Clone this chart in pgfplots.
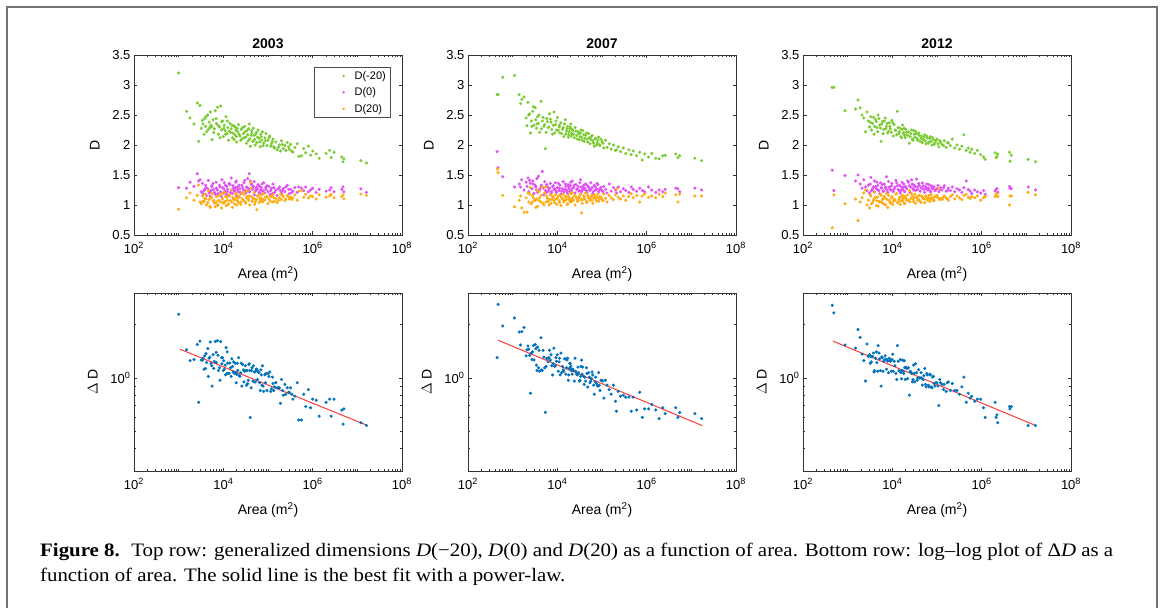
\documentclass[border=0pt]{standalone}
\usepackage{pgfplots}
\pgfplotsset{compat=1.18}
\usepackage{pgfplotstable}
\usepackage{graphicx}
\usepackage{fontspec}
\setmainfont{Liberation Sans}
\newfontfamily\capfont{Liberation Serif}
\definecolor{cgreen}{RGB}{122,204,50}
\definecolor{cmag}{RGB}{226,80,246}
\definecolor{corange}{RGB}{255,172,20}
\definecolor{cblue}{RGB}{0,114,189}
\definecolor{cred}{RGB}{255,60,60}

% columns: area, D(-20), D(0), D(20), Delta D
\pgfplotstableread{
A Dm D0 Dp dD
1.0e3 3.20 1.29 0.93 2.28
1.5e3 2.56 1.28 1.12 1.44
1.8e3 2.45 1.38 1.20 1.25
2.2e3 2.35 1.31 1.08 1.27
2.6e3 2.70 1.52 1.16 1.54
2.8e3 2.06 1.40 1.33 0.73
3.0e3 2.66 1.42 1.05 1.61
3.2e3 2.28 1.22 1.02 1.26
3.5e3 2.35 1.19 1.06 1.29
3.8e3 2.44 1.26 1.11 1.33
4.0e3 2.31 1.33 1.18 1.13
4.2e3 2.22 1.16 1.00 1.22
4.5e3 2.50 1.27 1.04 1.46
4.8e3 2.38 1.20 1.09 1.29
5.0e3 2.29 1.15 0.98 1.31
5.3e3 2.33 1.24 1.12 1.21
5.6e3 2.09 1.30 1.19 0.90
5.9e3 2.42 1.36 1.07 1.35
6.3e3 2.27 1.21 1.03 1.24
6.6e3 2.57 1.18 0.97 1.60
7.0e3 2.36 1.28 1.14 1.22
7.4e3 2.63 1.25 1.01 1.62
7.8e3 2.18 1.17 1.08 1.10
8.2e3 2.30 1.33 1.16 1.14
8.7e3 2.65 1.22 1.05 1.60
9.1e3 2.25 1.14 0.95 1.30
9.6e3 2.40 1.29 1.10 1.30
1.0e4 2.14 1.20 1.04 1.10
1.05e4 2.33 1.37 1.21 1.12
1.1e4 2.24 1.23 1.06 1.18
1.15e4 2.47 1.18 0.99 1.48
1.2e4 2.19 1.31 1.13 1.06
1.25e4 2.29 1.26 1.08 1.21
1.3e4 2.08 1.16 1.02 1.06
1.4e4 2.36 1.34 1.15 1.21
1.45e4 2.21 1.21 1.07 1.14
1.5e4 2.27 1.45 1.25 1.02
1.6e4 2.12 1.19 0.96 1.16
1.7e4 2.32 1.28 1.09 1.23
1.8e4 2.17 1.24 1.11 1.06
1.9e4 2.25 1.38 1.18 1.07
2.0e4 2.05 1.15 1.00 1.05
2.1e4 2.22 1.30 1.12 1.10
2.2e4 2.34 1.22 1.04 1.30
2.35e4 2.15 1.27 1.13 1.02
2.5e4 2.26 1.19 1.05 1.21
2.6e4 2.10 1.33 1.20 0.90
2.8e4 2.19 1.25 1.08 1.11
3.0e4 2.31 1.41 1.22 1.09
3.2e4 2.13 1.20 1.03 1.10
3.4e4 2.24 1.29 1.14 1.10
3.6e4 2.07 1.23 1.10 0.97
3.8e4 2.35 1.52 1.15 1.20
4.0e4 1.98 1.40 1.38 0.60
4.2e4 2.16 1.36 1.28 0.88
4.4e4 2.20 1.26 1.06 1.14
4.7e4 2.28 1.31 1.11 1.17
5.0e4 2.09 1.17 1.01 1.08
5.3e4 2.18 1.24 1.09 1.09
5.6e4 2.04 1.28 0.92 1.12
6.0e4 2.25 1.34 1.16 1.09
6.3e4 2.11 1.21 1.04 1.07
6.7e4 1.97 1.19 1.12 0.85
7.1e4 2.14 1.29 1.10 1.04
7.5e4 2.22 1.23 1.05 1.17
8.0e4 2.03 1.37 1.19 0.84
8.5e4 2.12 1.20 1.08 1.04
9.0e4 2.19 1.26 1.13 1.06
9.5e4 1.99 1.32 1.14 0.85
1.0e5 2.08 1.22 1.02 1.06
1.1e5 2.15 1.18 1.07 1.08
1.2e5 2.02 1.28 1.15 0.87
1.3e5 2.10 1.35 1.17 0.93
1.4e5 1.95 1.21 1.06 0.89
1.5e5 2.05 1.25 1.11 0.94
1.6e5 1.92 1.16 1.04 0.88
1.8e5 2.00 1.30 1.12 0.88
1.9e5 1.90 1.24 1.18 0.72
2.0e5 2.07 1.20 1.09 0.98
2.2e5 1.94 1.27 1.14 0.80
2.4e5 1.99 1.22 1.07 0.92
2.7e5 2.04 1.33 1.16 0.88
3.0e5 1.93 1.19 1.10 0.83
3.2e5 2.01 1.26 1.13 0.88
3.6e5 1.88 1.23 1.12 0.76
4.0e5 1.96 1.29 1.17 0.79
4.5e5 2.02 1.21 1.08 0.94
4.9e5 1.81 1.30 1.23 0.58
5.6e5 1.82 1.28 1.24 0.58
6.3e5 1.94 1.24 1.13 0.81
7.0e5 1.87 1.30 1.18 0.69
8.0e5 1.98 1.22 1.12 0.86
9.0e5 1.83 1.25 1.15 0.68
1.0e6 1.90 1.28 1.14 0.76
1.2e6 1.85 1.21 1.10 0.75
1.4e6 1.78 1.26 1.17 0.61
2.0e6 1.86 1.23 1.13 0.73
2.4e6 1.91 1.25 1.15 0.76
2.6e6 1.79 1.29 1.18 0.61
3.0e6 1.88 1.22 1.12 0.76
4.5e6 1.80 1.26 1.14 0.66
4.8e6 1.72 1.30 1.17 0.55
5.0e6 1.77 1.22 1.10 0.67
1.2e7 1.74 1.27 1.18 0.56
1.6e7 1.70 1.21 1.16 0.54
3.4e3 2.41 1.36 1.15 1.26
3.7e3 2.18 1.24 1.06 1.12
4.1e3 2.47 1.29 1.10 1.37
4.6e3 2.26 1.41 1.24 1.02
5.1e3 2.55 1.22 0.96 1.59
5.5e3 2.30 1.32 1.13 1.17
6.1e3 2.21 1.26 1.08 1.13
6.9e3 2.44 1.38 1.05 1.39
7.6e3 2.33 1.19 0.99 1.34
8.4e3 2.12 1.30 1.15 0.97
9.3e3 2.39 1.42 1.19 1.20
1.02e4 2.28 1.27 1.03 1.25
1.12e4 2.18 1.33 1.14 1.04
1.22e4 2.40 1.22 1.00 1.40
1.35e4 2.23 1.36 1.17 1.06
1.55e4 2.33 1.25 1.05 1.28
1.65e4 2.20 1.32 1.12 1.08
1.75e4 2.09 1.23 1.02 1.07
1.85e4 2.30 1.29 1.09 1.21
1.95e4 2.14 1.40 1.20 0.94
2.05e4 2.28 1.26 1.07 1.21
2.25e4 2.18 1.33 1.15 1.03
2.45e4 2.08 1.21 1.01 1.07
2.7e4 2.29 1.29 1.10 1.19
2.9e4 2.12 1.37 1.17 0.95
3.1e4 2.22 1.24 1.05 1.17
3.3e4 2.03 1.30 1.12 0.91
3.5e4 2.17 1.44 1.24 0.93
3.7e4 2.27 1.27 1.08 1.19
3.9e4 2.10 1.22 1.00 1.10
4.3e4 2.24 1.34 1.14 1.10
4.6e4 2.06 1.28 1.10 0.96
4.9e4 2.16 1.39 1.21 0.95
5.2e4 2.00 1.23 1.05 0.95
5.5e4 2.21 1.30 1.09 1.12
5.8e4 2.13 1.26 1.15 0.98
6.5e4 2.05 1.31 1.11 0.94
6.9e4 2.18 1.25 1.07 1.11
7.3e4 2.08 1.35 1.17 0.91
7.8e4 1.99 1.24 1.09 0.90
8.8e4 2.07 1.29 1.13 0.94
1.05e5 2.12 1.31 1.10 1.02
1.15e5 1.98 1.24 1.14 0.84
1.25e5 2.06 1.19 1.05 1.01
1.35e5 1.97 1.29 1.12 0.85
1.7e5 1.96 1.27 1.08 0.88
2.1e5 2.01 1.24 1.16 0.85
2.5e5 1.91 1.30 1.10 0.81
2.9e5 1.97 1.26 1.14 0.83
3.4e5 1.90 1.21 1.09 0.81
}\tabA

\pgfplotstableread{
A Dm D0 Dp dD
4.5e2 2.84 1.89 1.60 1.30
4.7e2 2.84 1.62 1.54 2.59
6.0e2 3.13 1.47 1.16 1.96
1.1e3 3.16 1.30 0.97 2.17
1.4e3 2.84 1.35 1.08 1.81
1.5e3 2.69 1.30 1.15 1.53
1.6e3 2.76 1.42 0.95 1.82
1.8e3 2.80 1.25 0.88 1.92
2.0e3 2.45 1.38 1.12 1.33
2.1e3 2.32 1.31 0.88 1.44
2.2e3 2.71 1.45 1.20 1.51
2.3e3 2.50 1.22 1.05 1.45
2.5e3 2.20 1.36 1.29 0.82
2.6e3 2.40 1.28 1.02 1.38
2.8e3 2.56 1.40 1.16 1.40
3.0e3 2.33 1.19 1.07 1.26
3.2e3 2.62 1.33 1.08 1.54
3.4e3 2.28 1.25 1.10 1.18
3.6e3 2.47 1.21 0.98 1.49
3.8e3 2.36 1.48 1.22 1.14
4.0e3 2.21 1.26 1.12 1.09
4.3e3 2.73 1.30 1.05 1.68
4.6e3 2.40 1.56 1.30 1.10
5.0e3 2.31 1.17 1.00 1.31
5.4e3 1.94 1.24 1.30 0.64
5.8e3 2.44 1.34 1.15 1.29
6.2e3 2.29 1.22 1.06 1.23
6.7e3 2.52 1.28 1.09 1.43
7.2e3 2.38 1.19 1.03 1.35
7.8e3 2.18 1.31 1.14 1.04
8.4e3 2.55 1.26 1.08 1.47
9.0e3 2.34 1.37 1.17 1.17
9.6e3 2.25 1.21 1.01 1.24
1.0e4 2.46 1.29 1.11 1.35
1.1e4 2.30 1.24 1.07 1.23
1.15e4 2.20 1.33 1.16 1.04
1.2e4 2.37 1.18 0.99 1.38
1.3e4 2.26 1.27 1.10 1.16
1.4e4 2.14 1.22 1.05 1.09
1.5e4 2.42 1.35 1.14 1.28
1.6e4 2.23 1.25 1.09 1.14
1.7e4 2.31 1.19 1.02 1.29
1.8e4 2.17 1.30 1.13 1.04
1.9e4 2.27 1.23 1.06 1.21
2.0e4 2.35 1.38 1.19 1.16
2.1e4 2.19 1.21 1.08 1.11
2.2e4 2.24 1.28 1.12 1.12
2.4e4 2.12 1.33 1.16 0.96
2.5e4 2.29 1.20 1.00 1.29
2.7e4 2.16 1.26 1.11 1.05
2.9e4 2.22 1.31 1.07 1.15
3.1e4 2.09 1.24 1.13 0.96
3.3e4 2.20 1.42 1.18 1.02
3.5e4 2.13 1.22 0.87 1.26
3.7e4 2.24 1.29 1.09 1.15
4.0e4 2.06 1.26 1.14 0.92
4.3e4 2.16 1.35 1.20 0.96
4.6e4 2.10 1.21 1.04 1.06
5.0e4 2.19 1.30 1.12 1.07
5.4e4 2.02 1.24 1.08 0.94
5.8e4 2.14 1.28 1.15 0.99
6.2e4 2.07 1.19 1.03 1.04
6.7e4 1.98 1.33 1.17 0.81
7.2e4 2.11 1.25 1.10 1.01
7.8e4 2.04 1.36 1.13 0.91
8.4e4 2.13 1.22 1.06 1.07
9.0e4 1.99 1.27 1.14 0.85
1.0e5 2.06 1.24 1.09 0.97
1.1e5 1.95 1.31 1.18 0.77
1.2e5 2.08 1.26 1.11 0.97
1.3e5 1.96 1.20 1.05 0.91
1.45e5 2.02 1.35 1.16 0.86
1.6e5 1.93 1.23 1.12 0.81
1.8e5 2.00 1.29 1.09 0.91
2.0e5 1.91 1.25 1.17 0.74
2.1e5 1.92 1.20 1.27 0.65
2.3e5 1.97 1.30 1.13 0.84
2.6e5 1.89 1.22 1.10 0.79
3.0e5 1.95 1.27 1.15 0.80
3.4e5 1.86 1.24 1.08 0.78
4.0e5 1.92 1.21 1.14 0.78
4.5e5 1.84 1.30 1.19 0.65
5.0e5 1.90 1.26 1.12 0.78
6.0e5 1.82 1.23 1.16 0.66
7.0e5 1.88 1.28 1.05 0.83
8.0e5 1.75 1.24 1.15 0.60
9.0e5 1.85 1.22 1.18 0.67
1.1e6 1.80 1.30 1.13 0.67
1.3e6 1.86 1.25 1.15 0.71
1.6e6 1.78 1.21 1.12 0.66
1.9e6 1.77 1.25 1.18 0.59
2.3e6 1.82 1.22 1.14 0.68
2.6e6 1.83 1.26 1.20 0.63
4.5e6 1.85 1.28 1.17 0.68
5.0e6 1.79 1.27 1.05 0.60
5.5e6 1.82 1.22 1.18 0.64
1.2e7 1.78 1.28 1.15 0.63
1.7e7 1.74 1.25 1.15 0.59
2.4e3 2.52 1.41 1.18 1.34
2.7e3 2.31 1.27 1.04 1.27
2.9e3 2.64 1.35 1.12 1.52
3.3e3 2.42 1.30 0.96 1.46
3.5e3 2.35 1.44 1.25 1.10
3.9e3 2.50 1.23 1.07 1.43
4.4e3 2.27 1.33 1.16 1.11
4.8e3 2.46 1.28 1.03 1.43
5.2e3 2.34 1.39 1.20 1.14
5.6e3 2.21 1.21 1.05 1.16
6.0e3 2.39 1.30 1.11 1.28
6.5e3 2.30 1.25 1.00 1.30
7.0e3 2.43 1.36 1.17 1.26
7.5e3 2.26 1.22 1.09 1.17
8.1e3 2.33 1.32 1.13 1.20
8.7e3 2.20 1.27 1.04 1.16
9.3e3 2.40 1.24 1.10 1.30
1.05e4 2.24 1.36 1.15 1.09
1.12e4 2.33 1.28 1.04 1.29
1.25e4 2.19 1.23 1.12 1.07
1.35e4 2.29 1.39 1.18 1.11
1.45e4 2.35 1.26 1.07 1.28
1.55e4 2.18 1.31 1.13 1.05
1.65e4 2.27 1.22 1.01 1.26
1.75e4 2.13 1.34 1.16 0.97
1.85e4 2.22 1.27 1.09 1.13
1.95e4 2.30 1.32 1.10 1.20
2.05e4 2.15 1.24 1.05 1.10
2.15e4 2.26 1.40 1.21 1.05
2.3e4 2.18 1.29 1.08 1.10
2.6e4 2.23 1.34 1.14 1.09
2.8e4 2.10 1.27 1.06 1.04
3.0e4 2.19 1.23 1.12 1.07
3.2e4 2.14 1.37 1.17 0.97
3.4e4 2.25 1.30 1.09 1.16
3.6e4 2.08 1.25 1.03 1.05
3.9e4 2.17 1.33 1.15 1.02
4.1e4 2.11 1.28 1.10 1.01
4.5e4 2.20 1.24 1.06 1.14
4.8e4 2.05 1.32 1.16 0.89
5.2e4 2.12 1.26 1.11 1.01
5.6e4 2.09 1.37 1.13 0.96
6.0e4 2.16 1.29 1.08 1.08
6.5e4 2.03 1.23 1.12 0.91
7.0e4 2.10 1.31 1.15 0.95
7.5e4 2.00 1.27 1.07 0.93
8.1e4 2.08 1.34 1.18 0.90
8.7e4 2.01 1.25 1.10 0.91
9.5e4 2.10 1.29 1.13 0.97
1.05e5 2.03 1.22 1.07 0.96
}\tabB

\pgfplotstableread{
A Dm D0 Dp dD
4.5e2 2.96 1.58 0.62 2.56
4.9e2 2.96 1.24 1.17 2.32
8.7e2 2.57 1.49 1.02 1.53
1.5e3 2.60 1.40 1.10 1.47
1.7e3 2.75 1.50 0.74 1.87
1.9e3 2.62 1.35 1.05 1.69
2.1e3 2.50 1.28 1.12 1.36
2.3e3 2.45 1.42 1.20 1.25
2.5e3 2.22 1.30 1.25 0.96
2.7e3 2.55 1.24 1.00 1.55
2.9e3 2.40 1.33 1.08 1.32
3.1e3 2.30 1.20 0.95 1.35
3.3e3 2.47 1.46 1.15 1.32
3.6e3 2.36 1.27 1.04 1.32
3.9e3 2.18 1.22 1.10 1.08
4.2e3 2.42 1.31 1.13 1.29
4.5e3 2.29 1.38 1.07 1.22
4.8e3 2.50 1.25 0.98 1.52
5.2e3 2.33 1.19 1.05 1.28
5.6e3 2.06 1.29 1.16 0.90
6.0e3 2.39 1.34 1.09 1.30
6.4e3 2.26 1.23 1.02 1.24
6.9e3 2.45 1.28 1.12 1.33
7.4e3 2.31 1.47 1.19 1.12
7.9e3 2.20 1.21 0.96 1.24
8.5e3 2.37 1.30 1.08 1.29
9.1e3 2.27 1.25 1.03 1.24
9.8e3 2.41 1.36 1.14 1.27
1.05e4 2.15 1.22 1.06 1.09
1.1e4 2.34 1.27 1.10 1.24
1.2e4 2.24 1.41 1.18 1.06
1.3e4 2.56 1.32 1.04 1.52
1.4e4 2.19 1.24 1.09 1.10
1.5e4 2.28 1.20 1.01 1.27
1.6e4 2.12 1.30 1.13 0.99
1.7e4 2.33 1.26 1.07 1.26
1.8e4 2.21 1.35 1.15 1.06
1.9e4 2.16 1.22 1.02 1.14
2.0e4 2.26 1.29 1.11 1.15
2.3e4 2.22 1.38 1.08 1.14
2.4e4 2.03 1.32 1.24 0.80
2.5e4 2.14 1.21 1.05 1.09
2.7e4 2.25 1.42 1.19 1.06
2.9e4 2.08 1.27 1.10 0.98
3.1e4 2.18 1.33 1.12 1.06
3.3e4 2.23 1.24 1.03 1.20
3.6e4 2.11 1.30 1.14 0.97
3.9e4 2.20 1.36 1.09 1.11
4.2e4 2.06 1.23 1.06 1.00
4.5e4 2.15 1.28 1.15 1.00
4.9e4 2.09 1.32 1.11 0.98
5.3e4 2.17 1.21 1.04 1.13
5.7e4 2.02 1.27 1.13 0.89
6.1e4 2.12 1.25 1.08 1.04
6.6e4 2.05 1.34 1.16 0.89
7.1e4 2.14 1.22 1.10 1.04
7.7e4 2.00 1.28 1.12 0.88
8.3e4 2.09 1.30 1.07 1.02
9.0e4 2.04 1.24 1.14 0.90
1.0e5 2.10 1.27 1.16 0.94
1.1e5 1.97 1.22 1.27 0.70
1.2e5 2.05 1.29 1.11 0.94
1.3e5 2.01 1.25 1.09 0.92
1.45e5 2.07 1.32 1.15 0.92
1.6e5 1.96 1.23 1.12 0.84
1.8e5 2.03 1.28 1.08 0.95
2.0e5 1.99 1.24 1.14 0.85
2.2e5 2.10 1.30 1.17 0.93
2.5e5 1.95 1.22 1.10 0.85
2.8e5 2.00 1.27 1.15 0.85
3.2e5 1.93 1.25 1.12 0.81
3.6e5 1.98 1.21 1.09 0.89
4.0e5 2.17 1.29 1.16 1.01
4.5e5 1.91 1.40 1.18 0.73
5.0e5 1.95 1.26 1.13 0.82
5.5e5 1.88 1.23 1.11 0.77
6.0e5 1.93 1.19 1.14 0.79
7.0e5 1.86 1.25 1.12 0.74
8.0e5 1.91 1.22 1.15 0.76
9.5e5 1.84 1.20 1.08 0.76
1.1e6 1.80 1.24 1.12 0.68
1.2e6 1.76 1.18 1.14 0.60
2.0e6 1.87 1.23 1.14 0.73
2.1e6 1.79 1.26 1.17 0.60
2.2e6 1.81 1.27 1.19 0.62
2.3e6 1.85 1.21 1.14 0.56
4.2e6 1.88 1.31 1.00 0.69
4.3e6 1.73 1.28 1.15 0.67
4.6e6 1.83 1.27 1.15 0.69
1.1e7 1.76 1.30 1.21 0.54
1.6e7 1.72 1.25 1.17 0.54
3.2e3 2.38 1.35 1.17 1.21
3.4e3 2.25 1.24 1.02 1.23
3.8e3 2.46 1.30 1.08 1.38
4.0e3 2.31 1.40 1.21 1.10
4.4e3 2.39 1.27 0.99 1.40
4.7e3 2.22 1.33 1.13 1.09
5.0e3 2.44 1.24 1.06 1.38
5.4e3 2.28 1.37 1.18 1.10
5.8e3 2.35 1.28 1.04 1.31
6.2e3 2.19 1.23 1.10 1.09
6.6e3 2.40 1.35 1.14 1.26
7.1e3 2.27 1.30 1.00 1.27
7.6e3 2.36 1.25 1.09 1.27
8.2e3 2.23 1.39 1.16 1.07
8.8e3 2.31 1.27 1.05 1.26
9.5e3 2.21 1.32 1.12 1.09
1.02e4 2.37 1.24 1.01 1.36
1.15e4 2.25 1.30 1.08 1.17
1.25e4 2.17 1.37 1.19 0.98
1.35e4 2.29 1.26 1.05 1.24
1.45e4 2.22 1.33 1.13 1.09
1.55e4 2.14 1.24 1.07 1.07
1.65e4 2.26 1.38 1.16 1.10
1.75e4 2.19 1.29 1.10 1.09
1.85e4 2.28 1.23 1.03 1.25
1.95e4 2.12 1.31 1.14 0.98
2.1e4 2.21 1.27 1.08 1.13
2.2e4 2.16 1.40 1.17 0.99
2.6e4 2.19 1.30 1.11 1.08
2.8e4 2.10 1.35 1.15 0.95
3.0e4 2.24 1.25 1.06 1.18
3.2e4 2.13 1.31 1.18 0.95
3.5e4 2.19 1.43 1.12 1.07
3.7e4 2.08 1.26 1.08 1.00
4.0e4 2.16 1.33 1.16 1.00
4.4e4 2.11 1.29 1.04 1.07
4.7e4 2.04 1.37 1.13 0.91
5.1e4 2.13 1.26 1.10 1.03
5.5e4 2.07 1.30 1.15 0.92
5.9e4 2.15 1.35 1.09 1.06
6.4e4 2.03 1.28 1.12 0.91
6.9e4 2.11 1.24 1.06 1.05
7.4e4 2.06 1.32 1.17 0.89
8.0e4 2.12 1.27 1.11 1.01
8.6e4 2.01 1.30 1.08 0.93
9.5e4 2.08 1.25 1.14 0.94
1.05e5 2.02 1.33 1.12 0.90
1.15e5 2.07 1.26 1.09 0.98
1.4e5 1.99 1.29 1.13 0.86
1.7e5 2.04 1.24 1.10 0.94
}\tabC

\begin{document}
\begin{tikzpicture}
\useasboundingbox (0pt,0pt) rectangle (1165pt,608pt);
\fill[white] (0pt,0pt) rectangle (1165pt,608pt);
\draw[black!55, line width=2pt] (7pt,0pt) -- (7pt,601pt) -- (1157pt,601pt) -- (1157pt,0pt);

% ---- top row ----
\begin{semilogxaxis}[at={(134pt,373pt)}, anchor=south west, title={2003},
    scale only axis, width=268pt, height=180pt,
    xmin=1e2, xmax=1e8,
    xtick={1e2,1e4,1e6,1e8},
    xticklabels={10\textsuperscript{2},10\textsuperscript{4},10\textsuperscript{6},10\textsuperscript{8}},
    minor xtick={2e2,3e2,4e2,5e2,6e2,7e2,8e2,9e2,1e3,2e3,3e3,4e3,5e3,6e3,7e3,8e3,9e3,2e4,3e4,4e4,5e4,6e4,7e4,8e4,9e4,1e5,2e5,3e5,4e5,5e5,6e5,7e5,8e5,9e5,2e6,3e6,4e6,5e6,6e6,7e6,8e6,9e6,1e7,2e7,3e7,4e7,5e7,6e7,7e7,8e7,9e7},
    tick align=inside,
    axis line style={black!80, line width=0.7pt},
    tick style={black!80, line width=0.6pt},
    major tick length=3.5pt, minor tick length=2pt,
    tick label style={font=\fontsize{13}{13}\selectfont},
    xticklabel style={yshift=-4pt},
    label style={font=\fontsize{14}{14}\selectfont},
    xlabel style={yshift=-6pt},
    ylabel style={yshift=6pt},
    title style={font=\bfseries\fontsize{14}{14}\selectfont, yshift=-3pt},
    xlabel={Area (m\textsuperscript{2})},
    ymin=0.5, ymax=3.5,
    ytick={0.5,1,1.5,2,2.5,3,3.5},
    yticklabels={0.5,1,1.5,2,2.5,3,3.5},
    ylabel={D},
  legend style={at={(1,1)}, xshift=-12pt, yshift=-12pt, anchor=north east,
    draw=black!70, font=\fontsize{11}{11}\selectfont, row sep=3pt, inner xsep=2pt},
  legend cell align=left]
\addplot[only marks, mark=*, mark size=1.35pt, color=cgreen, mark options={draw=none},
  legend image code/.code={\path[draw=none, fill=none] (0pt,0pt) -- (36pt,0pt); \fill[cgreen, draw=none] (27pt,0pt) circle (1.35pt);}] table[x=A, y=Dm]{\tabA};
\addplot[only marks, mark=*, mark size=1.35pt, color=cmag, mark options={draw=none},
  legend image code/.code={\path[draw=none, fill=none] (0pt,0pt) -- (36pt,0pt); \fill[cmag, draw=none] (27pt,0pt) circle (1.35pt);}] table[x=A, y=D0]{\tabA};
\addplot[only marks, mark=*, mark size=1.35pt, color=corange, mark options={draw=none},
  legend image code/.code={\path[draw=none, fill=none] (0pt,0pt) -- (36pt,0pt); \fill[corange, draw=none] (27pt,0pt) circle (1.35pt);}] table[x=A, y=Dp]{\tabA};
\legend{D(-20),D(0),D(20)}
\end{semilogxaxis}

\begin{semilogxaxis}[at={(468pt,373pt)}, anchor=south west, title={2007},
    scale only axis, width=268pt, height=180pt,
    xmin=1e2, xmax=1e8,
    xtick={1e2,1e4,1e6,1e8},
    xticklabels={10\textsuperscript{2},10\textsuperscript{4},10\textsuperscript{6},10\textsuperscript{8}},
    minor xtick={2e2,3e2,4e2,5e2,6e2,7e2,8e2,9e2,1e3,2e3,3e3,4e3,5e3,6e3,7e3,8e3,9e3,2e4,3e4,4e4,5e4,6e4,7e4,8e4,9e4,1e5,2e5,3e5,4e5,5e5,6e5,7e5,8e5,9e5,2e6,3e6,4e6,5e6,6e6,7e6,8e6,9e6,1e7,2e7,3e7,4e7,5e7,6e7,7e7,8e7,9e7},
    tick align=inside,
    axis line style={black!80, line width=0.7pt},
    tick style={black!80, line width=0.6pt},
    major tick length=3.5pt, minor tick length=2pt,
    tick label style={font=\fontsize{13}{13}\selectfont},
    xticklabel style={yshift=-4pt},
    label style={font=\fontsize{14}{14}\selectfont},
    xlabel style={yshift=-6pt},
    ylabel style={yshift=6pt},
    title style={font=\bfseries\fontsize{14}{14}\selectfont, yshift=-3pt},
    xlabel={Area (m\textsuperscript{2})},
    ymin=0.5, ymax=3.5,
    ytick={0.5,1,1.5,2,2.5,3,3.5},
    yticklabels={0.5,1,1.5,2,2.5,3,3.5},
    ylabel={D}]
\addplot[only marks, mark=*, mark size=1.35pt, color=cgreen, mark options={draw=none}] table[x=A, y=Dm]{\tabB};
\addplot[only marks, mark=*, mark size=1.35pt, color=cmag, mark options={draw=none}] table[x=A, y=D0]{\tabB};
\addplot[only marks, mark=*, mark size=1.35pt, color=corange, mark options={draw=none}] table[x=A, y=Dp]{\tabB};
\end{semilogxaxis}

\begin{semilogxaxis}[at={(803pt,373pt)}, anchor=south west, title={2012},
    scale only axis, width=268pt, height=180pt,
    xmin=1e2, xmax=1e8,
    xtick={1e2,1e4,1e6,1e8},
    xticklabels={10\textsuperscript{2},10\textsuperscript{4},10\textsuperscript{6},10\textsuperscript{8}},
    minor xtick={2e2,3e2,4e2,5e2,6e2,7e2,8e2,9e2,1e3,2e3,3e3,4e3,5e3,6e3,7e3,8e3,9e3,2e4,3e4,4e4,5e4,6e4,7e4,8e4,9e4,1e5,2e5,3e5,4e5,5e5,6e5,7e5,8e5,9e5,2e6,3e6,4e6,5e6,6e6,7e6,8e6,9e6,1e7,2e7,3e7,4e7,5e7,6e7,7e7,8e7,9e7},
    tick align=inside,
    axis line style={black!80, line width=0.7pt},
    tick style={black!80, line width=0.6pt},
    major tick length=3.5pt, minor tick length=2pt,
    tick label style={font=\fontsize{13}{13}\selectfont},
    xticklabel style={yshift=-4pt},
    label style={font=\fontsize{14}{14}\selectfont},
    xlabel style={yshift=-6pt},
    ylabel style={yshift=6pt},
    title style={font=\bfseries\fontsize{14}{14}\selectfont, yshift=-3pt},
    xlabel={Area (m\textsuperscript{2})},
    ymin=0.5, ymax=3.5,
    ytick={0.5,1,1.5,2,2.5,3,3.5},
    yticklabels={0.5,1,1.5,2,2.5,3,3.5},
    ylabel={D}]
\addplot[only marks, mark=*, mark size=1.35pt, color=cgreen, mark options={draw=none}] table[x=A, y=Dm]{\tabC};
\addplot[only marks, mark=*, mark size=1.35pt, color=cmag, mark options={draw=none}] table[x=A, y=D0]{\tabC};
\addplot[only marks, mark=*, mark size=1.35pt, color=corange, mark options={draw=none}] table[x=A, y=Dp]{\tabC};
\end{semilogxaxis}

% ---- bottom row ----
\begin{loglogaxis}[at={(134pt,137pt)}, anchor=south west,
    scale only axis, width=268pt, height=178pt,
    xmin=1e2, xmax=1e8,
    xtick={1e2,1e4,1e6,1e8},
    xticklabels={10\textsuperscript{2},10\textsuperscript{4},10\textsuperscript{6},10\textsuperscript{8}},
    minor xtick={2e2,3e2,4e2,5e2,6e2,7e2,8e2,9e2,1e3,2e3,3e3,4e3,5e3,6e3,7e3,8e3,9e3,2e4,3e4,4e4,5e4,6e4,7e4,8e4,9e4,1e5,2e5,3e5,4e5,5e5,6e5,7e5,8e5,9e5,2e6,3e6,4e6,5e6,6e6,7e6,8e6,9e6,1e7,2e7,3e7,4e7,5e7,6e7,7e7,8e7,9e7},
    tick align=inside,
    axis line style={black!80, line width=0.7pt},
    tick style={black!80, line width=0.6pt},
    major tick length=3.5pt, minor tick length=2pt,
    tick label style={font=\fontsize{13}{13}\selectfont},
    xticklabel style={yshift=-4pt},
    label style={font=\fontsize{14}{14}\selectfont},
    xlabel style={yshift=-6pt},
    ylabel style={yshift=6pt},
    xlabel={Area (m\textsuperscript{2})},
    ymin=0.3, ymax=3,
    ytick={1}, yticklabels={10\textsuperscript{0}},
    minor ytick={0.4,0.5,0.6,0.7,0.8,0.9,2},
    ylabel={$\Delta$ D}]
\addplot[only marks, mark=*, mark size=1.35pt, color=cblue, mark options={draw=none}] table[x=A, y=dD]{\tabA};
\addplot[cred, line width=1pt] coordinates {(1.07e3,1.45) (1.7e7,0.54)};
\end{loglogaxis}

\begin{loglogaxis}[at={(468pt,137pt)}, anchor=south west,
    scale only axis, width=268pt, height=178pt,
    xmin=1e2, xmax=1e8,
    xtick={1e2,1e4,1e6,1e8},
    xticklabels={10\textsuperscript{2},10\textsuperscript{4},10\textsuperscript{6},10\textsuperscript{8}},
    minor xtick={2e2,3e2,4e2,5e2,6e2,7e2,8e2,9e2,1e3,2e3,3e3,4e3,5e3,6e3,7e3,8e3,9e3,2e4,3e4,4e4,5e4,6e4,7e4,8e4,9e4,1e5,2e5,3e5,4e5,5e5,6e5,7e5,8e5,9e5,2e6,3e6,4e6,5e6,6e6,7e6,8e6,9e6,1e7,2e7,3e7,4e7,5e7,6e7,7e7,8e7,9e7},
    tick align=inside,
    axis line style={black!80, line width=0.7pt},
    tick style={black!80, line width=0.6pt},
    major tick length=3.5pt, minor tick length=2pt,
    tick label style={font=\fontsize{13}{13}\selectfont},
    xticklabel style={yshift=-4pt},
    label style={font=\fontsize{14}{14}\selectfont},
    xlabel style={yshift=-6pt},
    ylabel style={yshift=6pt},
    xlabel={Area (m\textsuperscript{2})},
    ymin=0.3, ymax=3,
    ytick={1}, yticklabels={10\textsuperscript{0}},
    minor ytick={0.4,0.5,0.6,0.7,0.8,0.9,2},
    ylabel={$\Delta$ D}]
\addplot[only marks, mark=*, mark size=1.35pt, color=cblue, mark options={draw=none}] table[x=A, y=dD]{\tabB};
\addplot[cred, line width=1pt] coordinates {(4.7e2,1.63) (1.74e7,0.54)};
\end{loglogaxis}

\begin{loglogaxis}[at={(803pt,137pt)}, anchor=south west,
    scale only axis, width=268pt, height=178pt,
    xmin=1e2, xmax=1e8,
    xtick={1e2,1e4,1e6,1e8},
    xticklabels={10\textsuperscript{2},10\textsuperscript{4},10\textsuperscript{6},10\textsuperscript{8}},
    minor xtick={2e2,3e2,4e2,5e2,6e2,7e2,8e2,9e2,1e3,2e3,3e3,4e3,5e3,6e3,7e3,8e3,9e3,2e4,3e4,4e4,5e4,6e4,7e4,8e4,9e4,1e5,2e5,3e5,4e5,5e5,6e5,7e5,8e5,9e5,2e6,3e6,4e6,5e6,6e6,7e6,8e6,9e6,1e7,2e7,3e7,4e7,5e7,6e7,7e7,8e7,9e7},
    tick align=inside,
    axis line style={black!80, line width=0.7pt},
    tick style={black!80, line width=0.6pt},
    major tick length=3.5pt, minor tick length=2pt,
    tick label style={font=\fontsize{13}{13}\selectfont},
    xticklabel style={yshift=-4pt},
    label style={font=\fontsize{14}{14}\selectfont},
    xlabel style={yshift=-6pt},
    ylabel style={yshift=6pt},
    xlabel={Area (m\textsuperscript{2})},
    ymin=0.3, ymax=3,
    ytick={1}, yticklabels={10\textsuperscript{0}},
    minor ytick={0.4,0.5,0.6,0.7,0.8,0.9,2},
    ylabel={$\Delta$ D}]
\addplot[only marks, mark=*, mark size=1.35pt, color=cblue, mark options={draw=none}] table[x=A, y=dD]{\tabC};
\addplot[cred, line width=1pt] coordinates {(4.7e2,1.61) (1.62e7,0.54)};
\end{loglogaxis}

% ---- caption ----
\node[anchor=base west, inner sep=0pt] at (40pt,52pt) {\resizebox{1073pt}{\height}{\capfont\fontsize{19}{19}\selectfont\textbf{Figure 8.}\hspace{0.55em}Top row: generalized dimensions \textit{D}(−20), \textit{D}(0) and \textit{D}(20) as a function of area. Bottom row: log–log plot of Δ\textit{D} as a}};
\node[anchor=base west, inner sep=0pt] at (40pt,27pt) {\resizebox{525pt}{\height}{\capfont\fontsize{19}{19}\selectfont function of area. The solid line is the best fit with a power-law.}};
\end{tikzpicture}
\end{document}
